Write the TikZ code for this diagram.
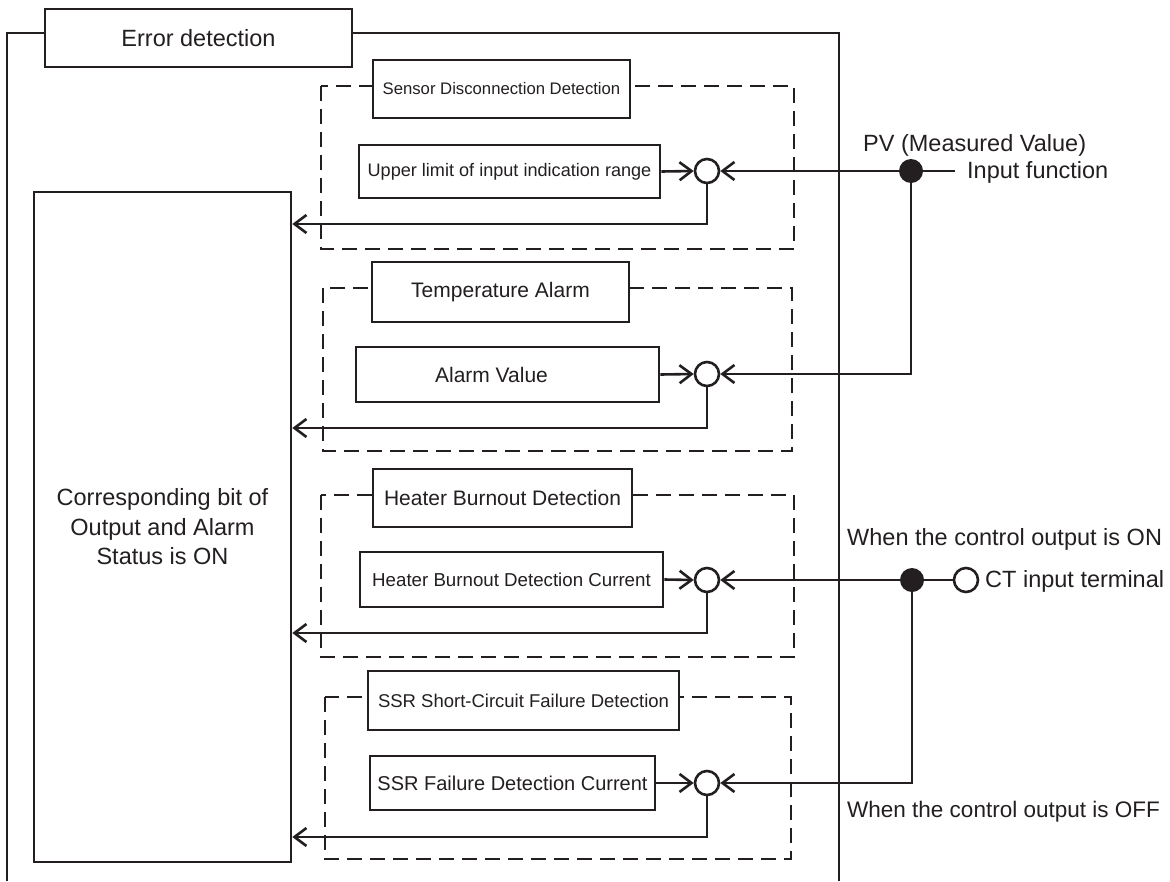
\documentclass[tikz,border=0pt]{standalone}
\usepackage{fontspec}
\setmainfont{Liberation Sans}
\usetikzlibrary{arrows.meta}
\definecolor{ink}{HTML}{231F20}
\begin{document}
\begin{tikzpicture}[x=1pt,y=-1pt,
  ln/.style={draw=ink,line width=2.6pt},
  box/.style={ln,fill=white,inner sep=0pt,text=ink,align=center},
  dbox/.style={draw=ink,line width=2.6pt,dash pattern=on 15pt off 8pt},
  arr/.style={ln,-{Straight Barb[length=12pt,width=18pt]}},
  circ/.style={ln,circle,fill=white,minimum size=24pt,inner sep=0pt},
  dot/.style={circle,fill=ink,minimum size=24pt,inner sep=0pt},
  lbl/.style={text=ink,inner sep=0pt,font=\fontsize{23.5}{28}\selectfont},
  fbig/.style={font=\fontsize{23.5}{29.5}\selectfont},
  fmid/.style={font=\fontsize{21}{25}\selectfont}
]
\useasboundingbox (0,0) rectangle (1170,881);

% outer frame
\coordinate (fbl) at (7,881);
\coordinate (ftl) at (7,33);
\coordinate (ftr) at (839,33);
\coordinate (fbr) at (839,881);
\draw[ln] (fbl) -- (ftl) -- (ftr) -- (fbr);

% dashed groups
\draw[dbox] (321,86) rectangle (794,249);
\draw[dbox] (323,288) rectangle (792,451);
\draw[dbox] (321,495) rectangle (794,657);
\draw[dbox] (325,697) rectangle (791,859);

% title
\node[box,fbig,minimum width=307pt,minimum height=58pt] (err) at (198.5,38) {Error detection};

% big box
\node[box,fbig,minimum width=257pt,minimum height=670pt] (big) at (162.5,527)
  {Corresponding bit of\\Output and Alarm\\Status is ON};

% group titles
\node[box,font=\fontsize{16.7}{20}\selectfont,minimum width=257pt,minimum height=58pt] (sensor) at (501.5,89) {Sensor Disconnection Detection};
\node[box,fmid,minimum width=257pt,minimum height=60pt] (temp) at (500.5,292) {Temperature Alarm};
\node[box,fmid,minimum width=259pt,minimum height=58pt] (hbd) at (502.5,498) {Heater Burnout Detection};
\node[box,font=\fontsize{18.5}{22}\selectfont,minimum width=311pt,minimum height=59pt] (ssrsc) at (523.5,700.5) {SSR Short-Circuit Failure Detection};

% value boxes
\node[box,font=\fontsize{18.1}{22}\selectfont,minimum width=301pt,minimum height=53pt] (upper) at (509.5,171.5) {Upper limit of input indication range};
\node[box,fmid,minimum width=303pt,minimum height=55pt] (alarmv) at (507.5,374.5) {Alarm Value\hspace*{32pt}};
\node[box,font=\fontsize{18.7}{22}\selectfont,minimum width=303pt,minimum height=55pt] (hbdc) at (511.5,579.5) {Heater Burnout Detection Current};
\node[box,font=\fontsize{20}{24}\selectfont,minimum width=285pt,minimum height=54pt] (ssrfdc) at (512.5,783) {SSR Failure Detection Current};

% comparators
\node[circ] (c1) at (707,171) {};
\node[circ] (c2) at (707,374) {};
\node[circ] (c3) at (707,580) {};
\node[circ] (c4) at (707,783) {};

% junctions and inputs
\node[dot] (pv) at (911,171) {};
\node[dot] (ct) at (912,580) {};
\node[circ] (term) at (966,580) {};
\coordinate (inend) at (955,171);

% labels
\node[lbl,anchor=base west] (pvl) at (863,151) {PV (Measured Value)};
\node[lbl,anchor=base west] (infl) at (967,178) {Input function};
\node[lbl,anchor=base west] (onl) at (847,545) {When the control output is ON};
\node[lbl,anchor=base west] (ctl) at (985,587) {CT input terminal};
\node[lbl,anchor=base west,font=\fontsize{22.5}{27}\selectfont] (offl) at (847,817) {When the control output is OFF};

% connectors: boxes to comparators
\draw[arr] (upper.east) -- (c1.west);
\draw[arr] (alarmv.east) -- (c2.west);
\draw[arr] (hbdc.east) -- (c3.west);
\draw[arr] (ssrfdc.east) -- (c4.west);

% inputs to comparators
\draw[ln] (pv.east) -- (inend);
\draw[arr] (pv.west) -- (c1.east);
\draw[arr] (pv.south) |- (c2.east);
\draw[ln] (ct.east) -- (term.west);
\draw[arr] (ct.west) -- (c3.east);
\draw[arr] (ct.south) |- (c4.east);

% outputs to big box
\draw[arr] (c1.south) |- (big.east |- 0,224);
\draw[arr] (c2.south) |- (big.east |- 0,428);
\draw[arr] (c3.south) |- (big.east |- 0,633);
\draw[arr] (c4.south) |- (big.east |- 0,837);
\end{tikzpicture}
\end{document}
